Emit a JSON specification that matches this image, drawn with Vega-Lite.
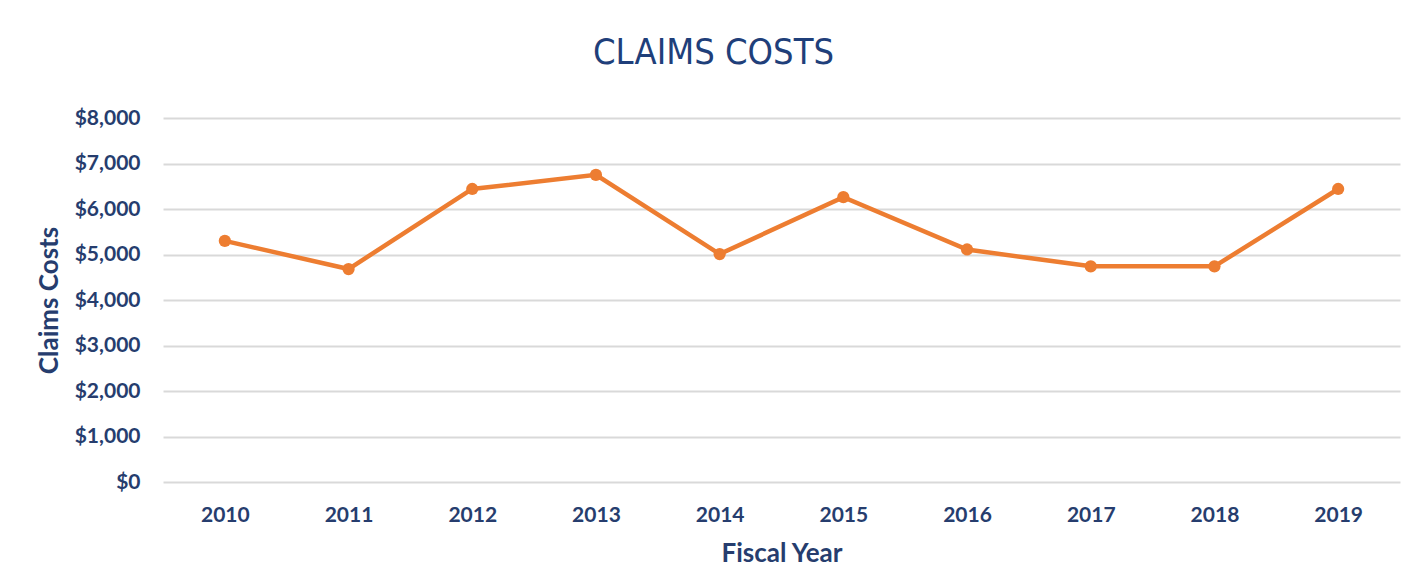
{
  "$schema": "https://vega.github.io/schema/vega-lite/v6.json",
  "autosize": "none",
  "width": 1237,
  "height": 364,
  "padding": {"left": 163, "top": 118, "right": 24, "bottom": 103},
  "background": "white",
  "title": {
    "text": "CLAIMS COSTS",
    "font": "DejaVu Sans Condensed, sans-serif",
    "fontSize": 36,
    "fontWeight": "normal",
    "color": "#1f3f7a",
    "anchor": "middle",
    "dx": -68,
    "offset": 35
  },
  "data": {
    "values": [
      {"year": "2010", "cost": 5300},
      {"year": "2011", "cost": 4680},
      {"year": "2012", "cost": 6440},
      {"year": "2013", "cost": 6750},
      {"year": "2014", "cost": 5010},
      {"year": "2015", "cost": 6260},
      {"year": "2016", "cost": 5110},
      {"year": "2017", "cost": 4740},
      {"year": "2018", "cost": 4740},
      {"year": "2019", "cost": 6440}
    ]
  },
  "mark": {"type": "line", "color": "#ed7d31", "strokeWidth": 4.5, "point": {"filled": true, "size": 150, "color": "#ed7d31"}},
  "encoding": {
    "x": {
      "field": "year", "type": "ordinal", "title": "Fiscal Year",
      "axis": {"labelAngle": 0, "domain": false, "ticks": false, "tickSize": 0, "grid": false, "labelPadding": 22, "titlePadding": 15}
    },
    "y": {
      "field": "cost", "type": "quantitative", "title": "Claims Costs",
      "scale": {"domain": [0, 8000]},
      "axis": {"values": [0,1000,2000,3000,4000,5000,6000,7000,8000], "format": "$,.0f", "domain": false, "ticks": false, "tickSize": 0, "labelPadding": 23, "titlePadding": 12, "gridColor": "#d9d9d9", "gridWidth": 2}
    }
  },
  "config": {
    "view": {"stroke": null},
    "axis": {
      "labelFont": "Lato", "labelFontSize": 21, "labelFontWeight": "bold", "labelColor": "#263d6e",
      "titleFont": "Lato", "titleFontSize": 26, "titleFontWeight": "bold", "titleColor": "#263d6e"
    }
  }
}
